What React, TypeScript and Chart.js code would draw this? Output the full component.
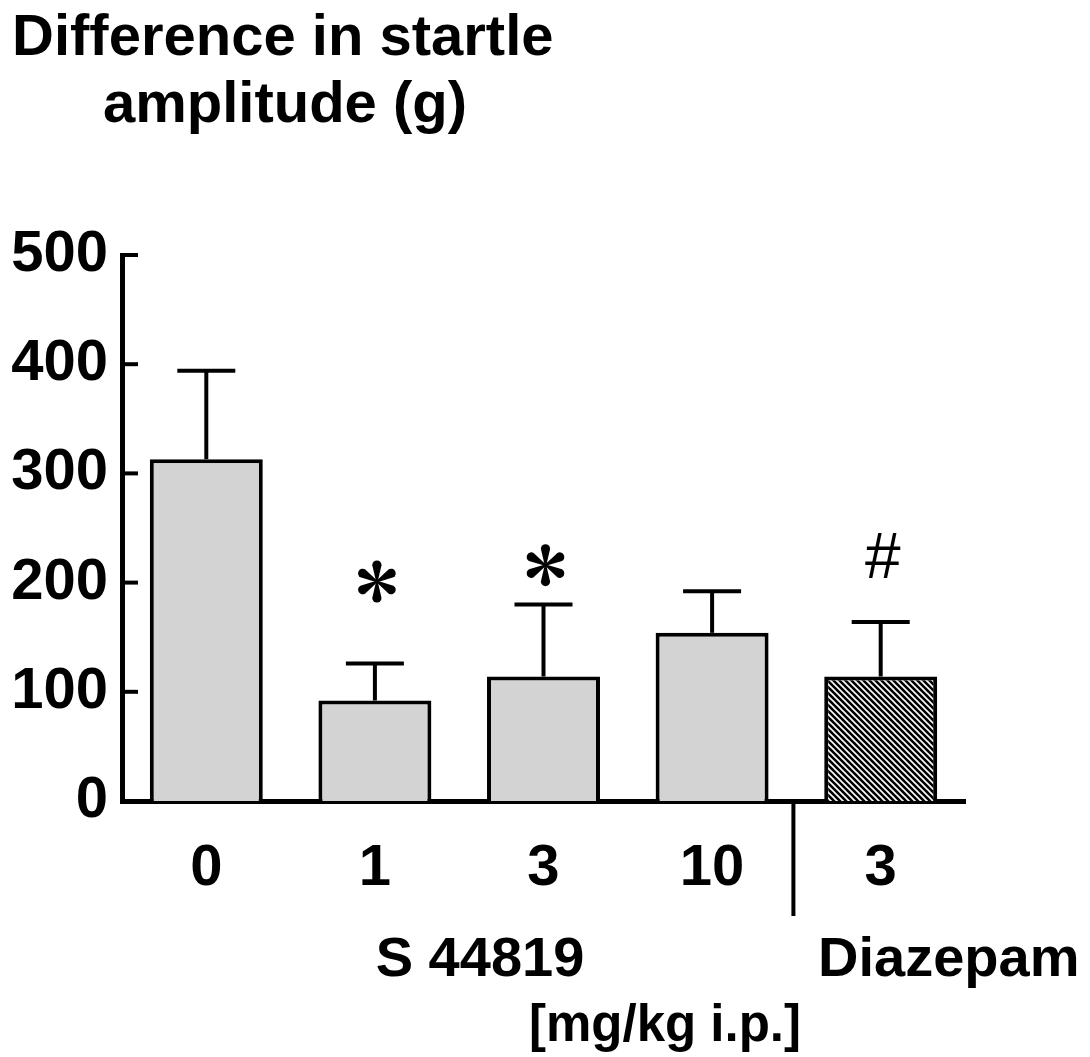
import React, { useEffect, useRef } from 'react';
import { Chart, registerables } from 'chart.js';

Chart.register(...registerables);

const categories = ['0', '1', '3', '10', '3'];
const means = [313, 92, 114, 154, 114];
const sems = [81, 34, 66, 38, 50];
const markers = ['', '*', '*', '', '#'];
const markerValues = [null, 201, 216, null, 220];
const yTickValues = [0, 100, 200, 300, 400, 500];
const titleLines = ['Difference in startle', 'amplitude (g)'];
const groupLabels = ['S 44819', 'Diazepam'];
const unitLabel = '[mg/kg i.p.]';

const FONT = "'Liberation Sans', Arial, Helvetica, sans-serif";

function makeHatch(): CanvasPattern | string {
  const s = 6;
  const c = document.createElement('canvas');
  c.width = s;
  c.height = s;
  const g = c.getContext('2d');
  if (!g) return '#000';
  g.fillStyle = '#000';
  g.fillRect(0, 0, s, s);
  g.strokeStyle = '#fff';
  g.lineWidth = 1.6;
  g.beginPath();
  g.moveTo(-2, -2);
  g.lineTo(s + 2, s + 2);
  g.moveTo(s - 2, -2);
  g.lineTo(s + 2, 2);
  g.moveTo(-2, s - 2);
  g.lineTo(2, s + 2);
  g.stroke();
  const p = g.createPattern(c, 'repeat');
  return p || '#000';
}

function drawAsterisk(ctx: CanvasRenderingContext2D, cx: number, cy: number, r: number) {
  const rad = r * 0.22;
  const dist = r - rad;
  ctx.fillStyle = '#000';
  for (let k = 0; k < 6; k++) {
    const a = -Math.PI / 2 + (k * Math.PI) / 3;
    const dx = Math.cos(a);
    const dy = Math.sin(a);
    const px = -dy;
    const py = dx;
    const tcx = cx + dx * dist;
    const tcy = cy + dy * dist;
    ctx.beginPath();
    ctx.moveTo(cx + px * 0.8, cy + py * 0.8);
    ctx.lineTo(tcx + px * rad, tcy + py * rad);
    ctx.arc(tcx, tcy, rad, a + Math.PI / 2, a - Math.PI / 2, true);
    ctx.lineTo(cx - px * 0.8, cy - py * 0.8);
    ctx.closePath();
    ctx.fill();
  }
}

const annotationPlugin = {
  id: 'annotations',
  afterDatasetsDraw(chart: any) {
    const ctx: CanvasRenderingContext2D = chart.ctx;
    const xs = chart.scales.x;
    const ys = chart.scales.y;
    const area = chart.chartArea;
    ctx.save();

    // inward y ticks
    ctx.strokeStyle = '#000';
    ctx.lineWidth = 4;
    ctx.lineCap = 'butt';
    yTickValues.forEach((v) => {
      const y = ys.getPixelForValue(v);
      ctx.beginPath();
      ctx.moveTo(area.left - 2, y);
      ctx.lineTo(area.left + 16, y);
      ctx.stroke();
    });

    // error bars
    means.forEach((m, i) => {
      const cx = xs.getPixelForValue(i);
      const y0 = ys.getPixelForValue(m);
      const y1 = ys.getPixelForValue(m + sems[i]);
      ctx.lineWidth = 4;
      ctx.beginPath();
      ctx.moveTo(cx, y0);
      ctx.lineTo(cx, y1);
      ctx.stroke();
      ctx.lineWidth = 4;
      ctx.beginPath();
      ctx.moveTo(cx - 29, y1);
      ctx.lineTo(cx + 29, y1);
      ctx.stroke();
    });

    // significance markers
    markers.forEach((mk, i) => {
      const mv = markerValues[i];
      if (!mk || mv == null) return;
      const cx = xs.getPixelForValue(i);
      const cy = ys.getPixelForValue(mv);
      if (mk === '*') {
        drawAsterisk(ctx, cx + 2, cy, 21);
      } else {
        ctx.fillStyle = '#000';
        ctx.font = `64px ${FONT}`;
        ctx.textAlign = 'center';
        ctx.textBaseline = 'middle';
        ctx.fillText(mk, cx + 2, cy);
      }
    });

    // separator between groups
    const sepX = (xs.getPixelForValue(3) + xs.getPixelForValue(4)) / 2 - 3;
    ctx.lineWidth = 4;
    ctx.beginPath();
    ctx.moveTo(sepX, area.bottom);
    ctx.lineTo(sepX, area.bottom + 115);
    ctx.stroke();

    // group labels
    ctx.fillStyle = '#000';
    ctx.font = `bold 56px ${FONT}`;
    ctx.textBaseline = 'alphabetic';
    ctx.textAlign = 'center';
    ctx.fillText(groupLabels[0], 480, 976);
    ctx.textAlign = 'left';
    ctx.fillText(groupLabels[1], 818, 976);
    ctx.font = `bold 51px ${FONT}`;
    ctx.textAlign = 'center';
    ctx.fillText(unitLabel, 665, 1041);

    // title
    ctx.font = `bold 58px ${FONT}`;
    ctx.textAlign = 'left';
    ctx.fillText(titleLines[0], 12, 55);
    ctx.textAlign = 'center';
    ctx.fillText(titleLines[1], 285, 122);

    ctx.restore();
  },
};

export default function App() {
  const ref = useRef<HTMLCanvasElement | null>(null);

  useEffect(() => {
    const canvas = ref.current;
    if (!canvas) return;
    const hatch = makeHatch();
    const colors = means.map((_, i) => (i === 4 ? hatch : '#d3d3d3'));
    const chart = new Chart(canvas, {
      type: 'bar',
      data: {
        labels: categories,
        datasets: [
          {
            data: means,
            backgroundColor: colors as any,
            borderColor: '#000',
            borderWidth: 4,
            borderSkipped: 'bottom',
            barPercentage: 0.67,
            categoryPercentage: 1,
          },
        ],
      },
      options: {
        responsive: false,
        animation: false,
        devicePixelRatio: 1,
        layout: { padding: { top: 255, right: 125, left: 0, bottom: 0 } },
        plugins: {
          legend: { display: false },
          tooltip: { enabled: false },
          title: { display: false },
        },
        scales: {
          x: {
            grid: { display: false, drawTicks: false },
            border: { display: true, color: '#000', width: 5 },
            ticks: {
              color: '#000',
              padding: 33,
              font: { family: FONT, size: 58, weight: 'bold' },
            },
            afterFit: (s: any) => {
              s.height = 256;
            },
          },
          y: {
            min: 0,
            max: 500,
            grid: { display: false, drawTicks: false },
            border: { display: true, color: '#000', width: 5 },
            ticks: {
              stepSize: 100,
              color: '#000',
              padding: 14,
              font: { family: FONT, size: 58, weight: 'bold' },
            },
            afterFit: (s: any) => {
              s.width = 122;
            },
          },
        },
      },
      plugins: [annotationPlugin],
    });
    return () => chart.destroy();
  }, []);

  return (
    <div style={{ position: 'absolute', left: 0, top: 0, width: 1090, height: 1057, background: '#fff' }}>
      <canvas ref={ref} width={1090} height={1057} style={{ display: 'block' }} />
    </div>
  );
}
